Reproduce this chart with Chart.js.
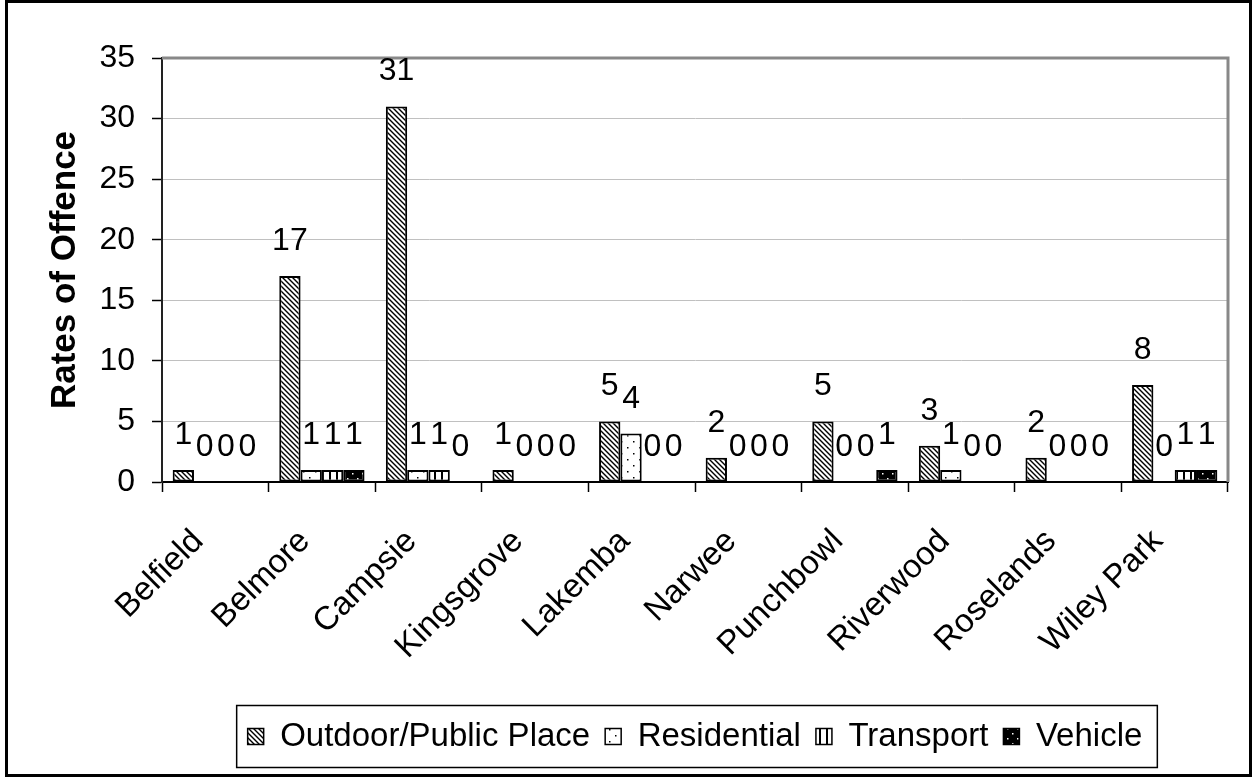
<!DOCTYPE html>
<html>
<head>
<meta charset="utf-8">
<title>Rates of Offence</title>
<script src="https://cdn.jsdelivr.net/npm/chart.js@4.4.0/dist/chart.umd.min.js"></script>
<style>
  html, body { margin: 0; padding: 0; background: #fff; }
  canvas { display: block; }
</style>
</head>
<body>
<canvas id="offenceChart" width="1252" height="778"></canvas>
<script>
const suburbs = ["Belfield", "Belmore", "Campsie", "Kingsgrove", "Lakemba", "Narwee", "Punchbowl", "Riverwood", "Roselands", "Wiley Park"];
const outdoorPublic = [1, 17, 31, 1, 5, 2, 5, 3, 2, 8];
const residential = [0, 1, 1, 0, 4, 0, 0, 1, 0, 0];
const transport = [0, 1, 1, 0, 0, 0, 0, 0, 0, 1];
const vehicle = [0, 1, 0, 0, 0, 0, 1, 0, 0, 1];
const yMin = 0, yMax = 35, yStep = 5;

const FONT = "'Liberation Sans', Arial, sans-serif";
const canvas = document.getElementById("offenceChart");
const ctx = canvas.getContext("2d");

// little tiles for the excel-ish fill patterns
function makePattern(w, h, draw) {
  const c = document.createElement("canvas");
  c.width = w; c.height = h;
  const g = c.getContext("2d");
  draw(g, w, h);
  return ctx.createPattern(c, "repeat");
}

const diagFill = makePattern(5, 5, (g, w, h) => {
  g.fillStyle = "#fff"; g.fillRect(0, 0, w, h);
  g.strokeStyle = "#000"; g.lineWidth = 1.4;
  g.beginPath();
  g.moveTo(-1, -1); g.lineTo(w + 1, h + 1);
  g.moveTo(-1, h - 1); g.lineTo(1, h + 1);
  g.moveTo(w - 1, -1); g.lineTo(w + 1, 1);
  g.stroke();
});
const dotFill = makePattern(12, 12, (g, w, h) => {
  g.fillStyle = "#fff"; g.fillRect(0, 0, w, h);
  g.fillStyle = "#000";
  g.fillRect(3, 3, 1.5, 1.5);
  g.fillRect(9, 9, 1.5, 1.5);
});
const stripeFill = makePattern(7, 4, (g, w, h) => {
  g.fillStyle = "#fff"; g.fillRect(0, 0, w, h);
  g.fillStyle = "#000"; g.fillRect(0, 0, 2, h);
});
const darkFill = makePattern(10, 10, (g, w, h) => {
  g.fillStyle = "#000"; g.fillRect(0, 0, w, h);
  g.fillStyle = "#fff";
  g.fillRect(2, 3, 1.5, 1.5);
  g.fillRect(7, 8, 1.5, 1.5);
});

const frame = {
  id: "frame",
  beforeDraw(chart) {
    const c = chart.ctx;
    c.save();
    c.fillStyle = "#fff";
    c.fillRect(0, 0, chart.width, chart.height);
    c.restore();
  },
  afterDraw(chart) {
    const c = chart.ctx;
    c.save();
    c.strokeStyle = "#000";
    c.lineWidth = 3;
    c.strokeRect(6.5, 1.5, chart.width - 8, chart.height - 4);
    c.restore();
  }
};

const plotBorder = {
  id: "plotBorder",
  beforeDatasetsDraw(chart) {
    const a = chart.chartArea, c = chart.ctx;
    c.save();
    c.strokeStyle = "#888";
    c.lineWidth = 3;
    c.beginPath();
    c.moveTo(a.left, a.top);
    c.lineTo(a.right, a.top);
    c.lineTo(a.right, a.bottom);
    c.stroke();
    c.restore();
  }
};

const barLabels = {
  id: "barLabels",
  afterDatasetsDraw(chart) {
    const c = chart.ctx;
    c.save();
    c.font = "32px " + FONT;
    c.fillStyle = "#000";
    c.textAlign = "center";
    c.textBaseline = "alphabetic";
    chart.data.datasets.forEach((ds, i) => {
      chart.getDatasetMeta(i).data.forEach((bar, j) => {
        c.fillText(String(ds.data[j]), bar.x, bar.y - 26);
      });
    });
    c.restore();
  }
};

// excel centres the legend under the plot, and boxes it
const legendBox = {
  id: "legendBox",
  afterLayout(chart) {
    const lg = chart.legend;
    lg.left = chart.chartArea.left;
    lg.right = chart.chartArea.right;
    lg.width = lg.right - lg.left;
  },
  afterDraw(chart) {
    const hb = chart.legend.legendHitBoxes;
    if (!hb || !hb.length) return;
    const last = hb[hb.length - 1];
    const mid = hb[0].top + hb[0].height / 2;
    const c = chart.ctx;
    c.save();
    c.strokeStyle = "#000";
    c.lineWidth = 1.5;
    c.strokeRect(hb[0].left - 11, mid - 31, last.left + last.width + 15 - (hb[0].left - 11), 62);
    c.restore();
  }
};

const noZeroBorder = c => (c.raw === 0 ? 0 : 2);

new Chart(ctx, {
  type: "bar",
  data: {
    labels: suburbs,
    datasets: [
      { label: "Outdoor/Public Place", data: outdoorPublic, backgroundColor: diagFill },
      { label: "Residential", data: residential, backgroundColor: dotFill },
      { label: "Transport", data: transport, backgroundColor: stripeFill },
      { label: "Vehicle", data: vehicle, backgroundColor: darkFill }
    ].map(d => Object.assign(d, {
      borderColor: "#000",
      borderWidth: noZeroBorder,
      borderSkipped: false,
      categoryPercentage: 0.8,
      barPercentage: 1.0
    }))
  },
  options: {
    responsive: false,
    devicePixelRatio: 1,
    animation: false,
    layout: { padding: { left: 0, right: 24, top: 58, bottom: 15 } },
    plugins: {
      tooltip: { enabled: false },
      legend: {
        position: "bottom",
        labels: {
          color: "#000",
          font: { family: FONT, size: 33 },
          boxWidth: 16,
          boxHeight: 16,
          padding: 15,
          generateLabels(chart) {
            return Chart.defaults.plugins.legend.labels.generateLabels(chart)
              .map(l => Object.assign(l, { lineWidth: 1.5, strokeStyle: "#000" }));
          }
        }
      }
    },
    scales: {
      x: {
        grid: { drawOnChartArea: false, offset: true, tickLength: 10, tickColor: "#000", tickWidth: 1.5 },
        border: { color: "#000", width: 2 },
        ticks: {
          color: "#000",
          font: { family: FONT, size: 33 },
          minRotation: 45,
          maxRotation: 45,
          autoSkip: false,
          padding: 30,
          labelOffset: -17
        },
        afterFit(scale) { scale.height = 223; }
      },
      y: {
        min: yMin,
        max: yMax,
        grid: { color: "#c0c0c0", lineWidth: 1, tickLength: 10, tickColor: "#000", tickWidth: 1.5 },
        border: { color: "#222", width: 2 },
        ticks: {
          stepSize: yStep,
          color: "#000",
          padding: 17,
          font: { family: FONT, size: 32 }
        },
        title: {
          display: true,
          text: "Rates of Offence",
          color: "#000",
          font: { family: FONT, size: 35, weight: "bold", lineHeight: 1.2 },
          padding: { top: 44, bottom: 0 }
        },
        afterFit(scale) { scale.width = 162; }
      }
    }
  },
  plugins: [frame, plotBorder, barLabels, legendBox]
});
</script>
</body>
</html>
